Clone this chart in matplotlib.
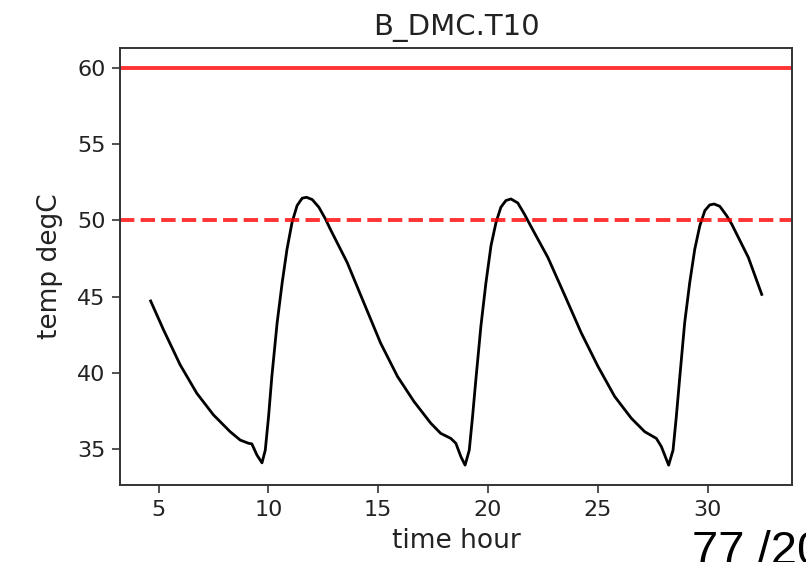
import numpy as np
import matplotlib
matplotlib.use("Agg")
import matplotlib.pyplot as plt

# values
time_hour = [4.64, 5.22, 5.98, 6.74, 7.5, 8.26, 8.72, 9.1, 9.25, 9.48,
             9.71, 9.86, 10.01, 10.16, 10.4, 10.63, 10.85, 11.08, 11.31, 11.54,
             11.74, 12.0, 12.3, 12.6, 12.83, 13.59, 14.35, 15.11, 15.88, 16.63,
             17.4, 17.85, 18.31, 18.54, 18.77, 18.96, 19.15, 19.3, 19.45, 19.68,
             19.91, 20.14, 20.37, 20.59, 20.82, 21.05, 21.36, 21.66, 21.96, 22.73,
             23.48, 24.25, 25.01, 25.77, 26.53, 27.14, 27.67, 27.9, 28.23, 28.43,
             28.58, 28.74, 28.96, 29.19, 29.42, 29.65, 29.88, 30.1, 30.3, 30.56,
             30.87, 31.1, 31.86, 32.47]
temp_degc = [44.72, 42.85, 40.55, 38.68, 37.26, 36.16, 35.61, 35.4, 35.36, 34.63,
             34.12, 34.95, 37.15, 39.78, 43.29, 45.92, 48.11, 49.87, 50.97, 51.45,
             51.51, 51.36, 50.86, 50.09, 49.4, 47.24, 44.6, 41.97, 39.78, 38.14,
             36.71, 36.05, 35.72, 35.4, 34.52, 33.97, 34.95, 37.15, 39.56, 43.07,
             45.92, 48.34, 49.87, 50.86, 51.3, 51.4, 51.14, 50.41, 49.6, 47.57,
             45.15, 42.63, 40.44, 38.47, 37.04, 36.16, 35.72, 35.18, 33.97, 34.95,
             37.15, 39.78, 43.29, 45.92, 48.11, 49.65, 50.64, 51.01, 51.07, 50.92,
             50.31, 49.76, 47.57, 45.15]
limit_max = 60
limit_warn = 50
title = "B_DMC.T10"
page_text = "77 /20"

fig = plt.figure(figsize=(8.06, 5.62), dpi=100)
ax = fig.add_axes([0.149, 0.137, 0.834, 0.778])

ax.plot(time_hour, temp_degc, color="black", linewidth=2, solid_joinstyle="round")
ax.axhline(limit_max, color="red", alpha=0.8, linewidth=2.8)
ax.axhline(limit_warn, color="red", alpha=0.8, linewidth=2.8, linestyle="--")

ax.set_xticks([5, 10, 15, 20, 25, 30])
ax.set_yticks([35, 40, 45, 50, 55, 60])
ax.tick_params(labelsize=16, length=5.5, width=1.2, pad=5, colors="#333333",
               labelcolor="#222222")
for s in ax.spines.values():
    s.set_linewidth(1.4)
    s.set_color("#333333")

ax.set_title(title, fontsize=21, color="#222222", pad=9)
ax.set_xlabel("time hour", fontsize=19, color="#222222", labelpad=6)
ax.set_ylabel("temp degC", fontsize=19, color="#222222", labelpad=10)

fig.text(692 / 806, 1 - 564 / 562, page_text, fontsize=34,
         family="Liberation Sans", color="black", ha="left", va="baseline")

fig.savefig("out.png", dpi=100)
